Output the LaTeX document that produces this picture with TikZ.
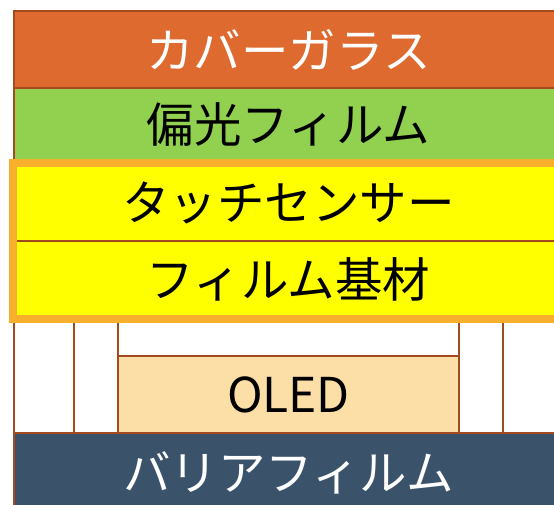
\documentclass[tikz,border=0pt]{standalone}
\usepackage{fontspec}
\setmainfont{Noto Sans CJK JP}
\definecolor{brownline}{HTML}{A34A1E}
\definecolor{coverfill}{HTML}{DF6A2F}
\definecolor{polfill}{HTML}{92D050}
\definecolor{touchfill}{HTML}{FFFF00}
\definecolor{frameorange}{HTML}{F8B02C}
\definecolor{oledfill}{HTML}{FCDFA7}
\definecolor{barrierfill}{HTML}{3A526A}
\tikzset{
  layer/.style={draw=brownline, line width=2pt, anchor=north west, inner sep=0pt,
    font=\fontsize{47.5}{52}\selectfont},
}
\begin{document}
\begin{tikzpicture}[x=1pt,y=-1pt]
\useasboundingbox (0,0) rectangle (554,505);
\clip (0,0) rectangle (554,505);
% stacked layers
\node[layer, fill=coverfill, text=white, minimum width=549pt, minimum height=77pt] (cover) at (13,10) {カバーガラス};
\node[layer, fill=polfill, minimum width=549pt, minimum height=73pt] (pol) at (13,87) {偏光フィルム};
\node[layer, fill=touchfill, minimum width=549pt, minimum height=76.5pt] (touch) at (13,163.5) {タッチセンサー};
\node[layer, fill=touchfill, minimum width=549pt, minimum height=77pt] (base) at (13,240) {フィルム基材};
% lower region
\node[layer, fill=white, minimum width=549pt, minimum height=115pt] (outer) at (13,317) {};
\node[layer, fill=white, minimum width=429pt, minimum height=115pt] (mid) at (73,317) {};
\node[layer, fill=white, minimum width=341pt, minimum height=115pt] (inner) at (117,317) {};
\node[layer, fill=oledfill, minimum width=341pt, minimum height=77pt, font=\fontsize{48}{52}\selectfont] (oled) at (117,355) {OLED};
\node[layer, fill=barrierfill, text=white, minimum width=549pt, minimum height=80pt] (barrier) at (13,432) {\raisebox{3pt}{バリアフィルム}};
% orange frame around touch sensor group
\draw[frameorange, line width=8pt] (touch.north west) rectangle (base.south east);
\end{tikzpicture}
\end{document}
